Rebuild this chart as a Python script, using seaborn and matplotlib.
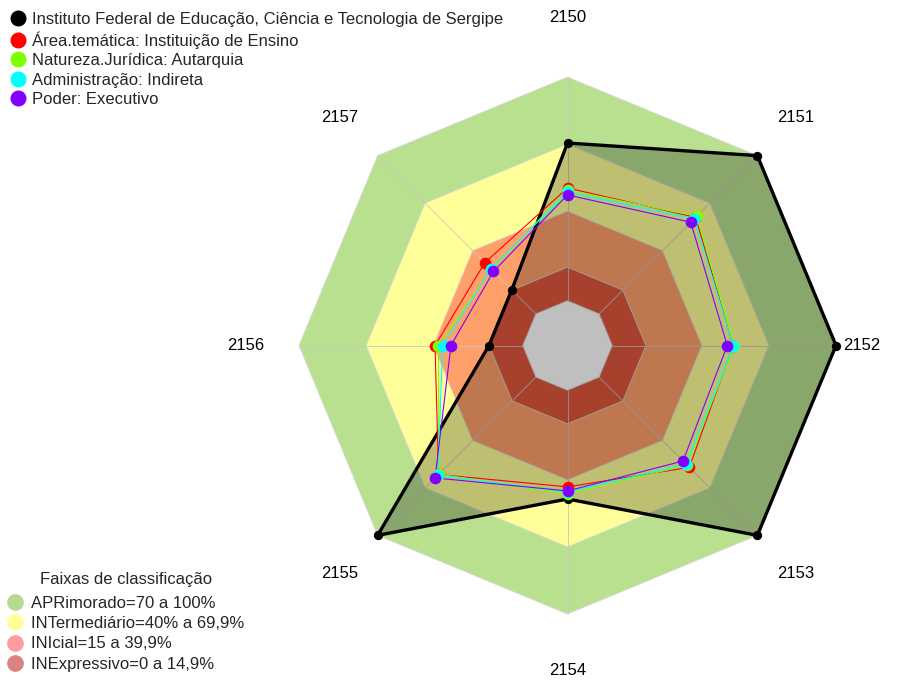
import matplotlib
matplotlib.use("Agg")
import matplotlib.pyplot as plt
from matplotlib.lines import Line2D
import numpy as np
import pandas as pd
import seaborn as sns

# axes of the radar and the series (percent)
eixos = ["2150", "2151", "2152", "2153", "2154", "2155", "2156", "2157"]
ifs = [70.5, 100, 100, 100, 48.6, 100, 15.1, 15.2]
area_tematica = [50.4, 61.0, 54.0, 57.0, 43.2, 61.5, 39.2, 32.3]
natureza = [49.5, 61.7, 54.5, 55.6, 46.4, 61.3, 37.7, 28.0]
administracao = [48.6, 60.0, 54.1, 55.0, 45.5, 62.0, 35.8, 28.4]
poder = [47.3, 57.9, 51.4, 53.0, 45.0, 63.7, 32.1, 26.8]

nomes = ["Instituto Federal de Educação, Ciência e Tecnologia de Sergipe",
         "Área.temática: Instituição de Ensino",
         "Natureza.Jurídica: Autarquia",
         "Administração: Indireta",
         "Poder: Executivo"]
cores = ["#000000", "#FF0000", "#80FF00", "#00FFFF", "#8000FF"]

# classification bands
faixas_lim = [100, 70, 40, 15]
faixas_cor = ["#b9e08f", "#ffff99", "#ffa06b", "#e0563b"]
faixas_nome = ["APRimorado=70 a 100%", "INTermediário=40% a 69,9%",
               "INIcial=15 a 39,9%", "INExpressivo=0 a 14,9%"]
faixas_legenda = ["#b5dc8c", "#ffff99", "#ff9c9c", "#dc8282"]

sns.set_theme(style="white")
plt.rcParams["font.family"] = ["Liberation Sans", "DejaVu Sans"]

n = len(eixos)
ang = np.deg2rad(90 - np.arange(n) * 360 / n)


def raio(v):
    # fmsb-like: 0% sits at 1/6 of the radius
    return (np.asarray(v, dtype=float) + 20) / 120


def xy(v):
    r = raio(v)
    return r * np.cos(ang), r * np.sin(ang)


fig = plt.figure(figsize=(9.09, 6.80), dpi=100)
ax = fig.add_axes([0, 0, 1, 1])
ax.set_xlim(-567.5 / 268.5, (909 - 567.5) / 268.5)
ax.set_ylim(-(680 - 345.5) / 268.5, 345.5 / 268.5)
ax.set_aspect("equal")
ax.axis("off")

# bands
for lim, cor in zip(faixas_lim, faixas_cor):
    x, y = xy([lim] * n)
    ax.fill(x, y, color=cor, lw=0.6, ec="#d8d8d8", zorder=1)
x, y = xy([0] * n)
ax.fill(x, y, color="white", lw=0.6, ec="#d8d8d8", zorder=1)

# spokes
x0, y0 = xy([0] * n)
x1, y1 = xy([100] * n)
for a, b, c, d in zip(x0, y0, x1, y1):
    ax.plot([a, c], [b, d], color="#c8c8c8", lw=0.6, zorder=2)

# institution polygon
x, y = xy(ifs)
ax.fill(x, y, color="black", alpha=0.25, lw=0, zorder=3)
df = pd.DataFrame({"x": np.append(x, x[0]), "y": np.append(y, y[0])})
sns.lineplot(data=df, x="x", y="y", sort=False, color="black", lw=2.4,
             estimator=None, ax=ax, zorder=4)
sns.scatterplot(x=x, y=y, color="black", s=45, linewidth=0, ax=ax, zorder=5)

# comparison series
for serie, cor in zip([area_tematica, natureza, administracao, poder], cores[1:]):
    x, y = xy(serie)
    df = pd.DataFrame({"x": np.append(x, x[0]), "y": np.append(y, y[0])})
    sns.lineplot(data=df, x="x", y="y", sort=False, color=cor, lw=0.8,
                 estimator=None, ax=ax, zorder=6)
    sns.scatterplot(x=x, y=y, color=cor, s=70, linewidth=0, ax=ax, zorder=7)

# axis labels
rlab = [1.22, 1.2, 1.095, 1.2, 1.21, 1.2, 1.2, 1.2]
for nome, a, r in zip(eixos, ang, rlab):
    ax.text(r * np.cos(a), r * np.sin(a), nome, ha="center", va="center",
            fontsize=12, color="black", zorder=8)

# legends
h1 = [Line2D([], [], marker="o", ls="", color=c, markersize=10.5) for c in cores]
leg1 = fig.legend(h1, nomes, loc="upper left", bbox_to_anchor=(0.0, 1.0),
                  frameon=False, fontsize=12, handlelength=0.8,
                  handletextpad=0.45, labelspacing=0.27, borderaxespad=0.3)

h2 = [Line2D([], [], marker="o", ls="", color=c, markersize=11) for c in faixas_legenda]
leg2 = fig.legend(h2, faixas_nome, loc="lower left", bbox_to_anchor=(0.0, 0.0),
                  frameon=False, fontsize=12, handlelength=0.8,
                  handletextpad=0.55, labelspacing=0.33, borderaxespad=0.08,
                  title="Faixas de classificação", title_fontsize=12)
leg2._legend_box.sep = 6

fig.savefig("out.png", dpi=100)
